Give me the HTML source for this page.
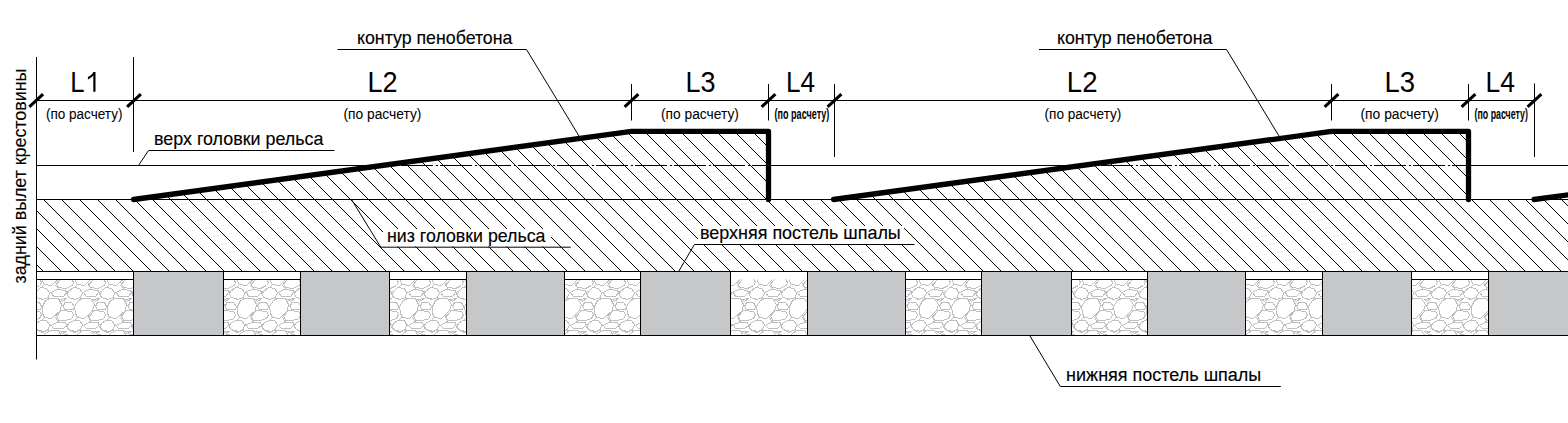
<!DOCTYPE html><html><head><meta charset="utf-8"><style>html,body{margin:0;padding:0;background:#fff;overflow:hidden}svg{display:block}text{font-family:"Liberation Sans",sans-serif;fill:#000}</style></head><body><svg width="1568" height="423" viewBox="0 0 1568 423"><defs><clipPath id="hc"><path d="M133.50 199.50L631.50 131.40L768.50 131.40L768.50 199.50ZM833.50 199.50L1331.50 131.40L1468.50 131.40L1468.50 199.50ZM1534.0 199.5L1580 193.23L1580 199.5ZM36.5 199.5L1580 199.5L1580 271.5L36.5 271.5Z"/></clipPath></defs><clipPath id="gc"><path d="M36.5 279.5H133.5V335.5H36.5ZM223.5 279.5H300.5V335.5H223.5ZM389.5 279.5H466.5V335.5H389.5ZM564.5 279.5H640.5V335.5H564.5ZM730.5 279.5H807.5V335.5H730.5ZM905.5 279.5H981.5V335.5H905.5ZM1071.5 279.5H1147.5V335.5H1071.5ZM1245.5 279.5H1322.5V335.5H1245.5ZM1411.5 279.5H1488.5V335.5H1411.5Z"/></clipPath><g clip-path="url(#gc)"><path d="M29.5 278.5L39.5 278.5L41.5 282.5L39.5 285.5L33.5 288.5L25.5 287.5L23.5 285.5L27.5 280.5ZM32.5 302.5L39.5 302.5L41.5 306.5L40.5 309.5L32.5 309.5L30.5 306.5ZM29.5 310.5L39.5 311.5L41.5 314.5L39.5 318.5L33.5 320.5L25.5 320.5L23.5 317.5L27.5 312.5ZM33.5 292.5L36.5 297.5L43.5 299.5M32.5 334.5L39.5 335.5L41.5 338.5L40.5 341.5L32.5 341.5L30.5 338.5ZM33.5 325.5L36.5 329.5L43.5 331.5M50.5 265.5L58.5 265.5L61.5 271.5L60.5 277.5L51.5 285.5L44.5 284.5L42.5 281.5L42.5 273.5L45.5 268.5ZM61.5 278.5L71.5 278.5L73.5 282.5L72.5 285.5L65.5 288.5L57.5 287.5L55.5 285.5L59.5 280.5ZM36.5 291.5L40.5 287.5L46.5 288.5L49.5 292.5L48.5 297.5L42.5 299.5L36.5 297.5L35.5 294.5ZM52.5 291.5L57.5 289.5L65.5 290.5L66.5 292.5L63.5 296.5L53.5 296.5L51.5 292.5ZM50.5 298.5L58.5 298.5L61.5 304.5L60.5 310.5L51.5 318.5L44.5 317.5L42.5 313.5L42.5 306.5L45.5 300.5ZM60.5 299.5L66.5 298.5L62.5 301.5ZM64.5 302.5L71.5 302.5L74.5 306.5L73.5 309.5L64.5 309.5L63.5 306.5ZM61.5 310.5L71.5 311.5L73.5 314.5L72.5 318.5L65.5 320.5L57.5 320.5L55.5 317.5L59.5 312.5ZM41.5 287.5L44.5 284.5M56.5 283.5L58.5 288.5L57.5 289.5M49.5 292.5L51.5 292.5M48.5 297.5L48.5 299.5M66.5 292.5L68.5 297.5L75.5 299.5M61.5 304.5L63.5 306.5M60.5 310.5L61.5 310.5M36.5 291.5L33.5 292.5M36.5 323.5L40.5 320.5L46.5 320.5L49.5 324.5L48.5 329.5L42.5 332.5L36.5 329.5L35.5 326.5ZM52.5 324.5L57.5 322.5L65.5 322.5L66.5 325.5L63.5 328.5L53.5 328.5L51.5 325.5ZM50.5 330.5L58.5 330.5L61.5 336.5L60.5 342.5L51.5 350.5L44.5 349.5L42.5 346.5L42.5 338.5L45.5 333.5ZM60.5 331.5L66.5 331.5L62.5 333.5ZM64.5 334.5L71.5 335.5L74.5 338.5L73.5 341.5L64.5 341.5L63.5 338.5ZM41.5 320.5L44.5 317.5M56.5 315.5L58.5 320.5L57.5 322.5M49.5 324.5L51.5 325.5M48.5 329.5L48.5 331.5M66.5 325.5L68.5 329.5L75.5 331.5M36.5 323.5L33.5 325.5M82.5 265.5L90.5 265.5L94.5 271.5L92.5 277.5L84.5 285.5L77.5 284.5L75.5 281.5L74.5 273.5L78.5 268.5ZM93.5 278.5L103.5 278.5L105.5 282.5L104.5 285.5L97.5 288.5L90.5 287.5L88.5 285.5L92.5 280.5ZM68.5 291.5L73.5 287.5L79.5 288.5L82.5 292.5L80.5 297.5L74.5 299.5L68.5 297.5L67.5 294.5ZM84.5 291.5L89.5 289.5L98.5 290.5L98.5 292.5L95.5 296.5L86.5 296.5L83.5 292.5ZM82.5 298.5L90.5 298.5L94.5 304.5L92.5 310.5L84.5 318.5L77.5 317.5L75.5 313.5L74.5 306.5L78.5 300.5ZM92.5 299.5L99.5 298.5L95.5 301.5ZM97.5 302.5L104.5 302.5L106.5 306.5L105.5 309.5L97.5 309.5L95.5 306.5ZM93.5 310.5L103.5 311.5L105.5 314.5L104.5 318.5L97.5 320.5L90.5 320.5L88.5 317.5L92.5 312.5ZM74.5 287.5L77.5 284.5M88.5 283.5L90.5 288.5L89.5 289.5M82.5 292.5L83.5 292.5M80.5 297.5L81.5 299.5M98.5 292.5L101.5 297.5L108.5 299.5M94.5 304.5L95.5 306.5M92.5 310.5L93.5 310.5M68.5 291.5L66.5 292.5M68.5 323.5L73.5 320.5L79.5 320.5L82.5 324.5L80.5 329.5L74.5 332.5L68.5 329.5L67.5 326.5ZM84.5 324.5L89.5 322.5L98.5 322.5L98.5 325.5L95.5 328.5L86.5 328.5L83.5 325.5ZM82.5 330.5L90.5 330.5L94.5 336.5L92.5 342.5L84.5 350.5L77.5 349.5L75.5 346.5L74.5 338.5L78.5 333.5ZM92.5 331.5L99.5 331.5L95.5 333.5ZM97.5 334.5L104.5 335.5L106.5 338.5L105.5 341.5L97.5 341.5L95.5 338.5ZM74.5 320.5L77.5 317.5M88.5 315.5L90.5 320.5L89.5 322.5M82.5 324.5L83.5 325.5M80.5 329.5L81.5 331.5M98.5 325.5L101.5 329.5L108.5 331.5M68.5 323.5L66.5 325.5M115.5 265.5L123.5 265.5L126.5 271.5L125.5 277.5L116.5 285.5L109.5 284.5L107.5 281.5L107.5 273.5L110.5 268.5ZM126.5 278.5L136.5 278.5L138.5 282.5L137.5 285.5L130.5 288.5L122.5 287.5L120.5 285.5L124.5 280.5ZM101.5 291.5L105.5 287.5L111.5 288.5L114.5 292.5L113.5 297.5L107.5 299.5L101.5 297.5L100.5 294.5ZM117.5 291.5L122.5 289.5L130.5 290.5L131.5 292.5L128.5 296.5L118.5 296.5L116.5 292.5ZM115.5 298.5L123.5 298.5L126.5 304.5L125.5 310.5L116.5 318.5L109.5 317.5L107.5 313.5L107.5 306.5L110.5 300.5ZM125.5 299.5L131.5 298.5L127.5 301.5ZM129.5 302.5L136.5 302.5L139.5 306.5L138.5 309.5L129.5 309.5L128.5 306.5ZM126.5 310.5L136.5 311.5L138.5 314.5L137.5 318.5L130.5 320.5L122.5 320.5L120.5 317.5L124.5 312.5ZM106.5 287.5L109.5 284.5M121.5 283.5L123.5 288.5L122.5 289.5M114.5 292.5L116.5 292.5M113.5 297.5L113.5 299.5M131.5 292.5L133.5 297.5L140.5 299.5M126.5 304.5L128.5 306.5M125.5 310.5L126.5 310.5M101.5 291.5L98.5 292.5M101.5 323.5L105.5 320.5L111.5 320.5L114.5 324.5L113.5 329.5L107.5 332.5L101.5 329.5L100.5 326.5ZM117.5 324.5L122.5 322.5L130.5 322.5L131.5 325.5L128.5 328.5L118.5 328.5L116.5 325.5ZM115.5 330.5L123.5 330.5L126.5 336.5L125.5 342.5L116.5 350.5L109.5 349.5L107.5 346.5L107.5 338.5L110.5 333.5ZM125.5 331.5L131.5 331.5L127.5 333.5ZM129.5 334.5L136.5 335.5L139.5 338.5L138.5 341.5L129.5 341.5L128.5 338.5ZM106.5 320.5L109.5 317.5M121.5 315.5L123.5 320.5L122.5 322.5M114.5 324.5L116.5 325.5M113.5 329.5L113.5 331.5M131.5 325.5L133.5 329.5L140.5 331.5M101.5 323.5L98.5 325.5M133.5 291.5L138.5 287.5L144.5 288.5L147.5 292.5L145.5 297.5L139.5 299.5L133.5 297.5L132.5 294.5ZM133.5 291.5L131.5 292.5M133.5 323.5L138.5 320.5L144.5 320.5L147.5 324.5L145.5 329.5L139.5 332.5L133.5 329.5L132.5 326.5ZM133.5 323.5L131.5 325.5M212.5 265.5L220.5 265.5L224.5 271.5L222.5 277.5L214.5 285.5L207.5 284.5L205.5 281.5L204.5 273.5L208.5 268.5ZM223.5 278.5L233.5 278.5L235.5 282.5L234.5 285.5L227.5 288.5L219.5 287.5L217.5 285.5L221.5 280.5ZM214.5 291.5L219.5 289.5L228.5 290.5L228.5 292.5L225.5 296.5L216.5 296.5L213.5 292.5ZM212.5 298.5L220.5 298.5L224.5 304.5L222.5 310.5L214.5 318.5L207.5 317.5L205.5 313.5L204.5 306.5L208.5 300.5ZM222.5 299.5L229.5 298.5L225.5 301.5ZM226.5 302.5L233.5 302.5L236.5 306.5L235.5 309.5L226.5 309.5L225.5 306.5ZM223.5 310.5L233.5 311.5L235.5 314.5L234.5 318.5L227.5 320.5L219.5 320.5L217.5 317.5L221.5 312.5ZM228.5 292.5L231.5 297.5L238.5 299.5M224.5 304.5L225.5 306.5M222.5 310.5L223.5 310.5M214.5 324.5L219.5 322.5L228.5 322.5L228.5 325.5L225.5 328.5L216.5 328.5L213.5 325.5ZM212.5 330.5L220.5 330.5L224.5 336.5L222.5 342.5L214.5 350.5L207.5 349.5L205.5 346.5L204.5 338.5L208.5 333.5ZM222.5 331.5L229.5 331.5L225.5 333.5ZM226.5 334.5L233.5 335.5L236.5 338.5L235.5 341.5L226.5 341.5L225.5 338.5ZM228.5 325.5L231.5 329.5L238.5 331.5M245.5 265.5L253.5 265.5L256.5 271.5L255.5 277.5L246.5 285.5L239.5 284.5L237.5 281.5L237.5 273.5L240.5 268.5ZM256.5 278.5L266.5 278.5L268.5 282.5L266.5 285.5L260.5 288.5L252.5 287.5L250.5 285.5L254.5 280.5ZM230.5 291.5L235.5 287.5L241.5 288.5L244.5 292.5L243.5 297.5L237.5 299.5L231.5 297.5L229.5 294.5ZM246.5 291.5L252.5 289.5L260.5 290.5L261.5 292.5L257.5 296.5L248.5 296.5L246.5 292.5ZM245.5 298.5L253.5 298.5L256.5 304.5L255.5 310.5L246.5 318.5L239.5 317.5L237.5 313.5L237.5 306.5L240.5 300.5ZM255.5 299.5L261.5 298.5L257.5 301.5ZM259.5 302.5L266.5 302.5L268.5 306.5L267.5 309.5L259.5 309.5L257.5 306.5ZM256.5 310.5L266.5 311.5L268.5 314.5L266.5 318.5L260.5 320.5L252.5 320.5L250.5 317.5L254.5 312.5ZM236.5 287.5L239.5 284.5M250.5 283.5L253.5 288.5L252.5 289.5M244.5 292.5L246.5 292.5M243.5 297.5L243.5 299.5M261.5 292.5L263.5 297.5L270.5 299.5M256.5 304.5L257.5 306.5M255.5 310.5L256.5 310.5M230.5 291.5L228.5 292.5M230.5 323.5L235.5 320.5L241.5 320.5L244.5 324.5L243.5 329.5L237.5 332.5L231.5 329.5L229.5 326.5ZM246.5 324.5L252.5 322.5L260.5 322.5L261.5 325.5L257.5 328.5L248.5 328.5L246.5 325.5ZM245.5 330.5L253.5 330.5L256.5 336.5L255.5 342.5L246.5 350.5L239.5 349.5L237.5 346.5L237.5 338.5L240.5 333.5ZM255.5 331.5L261.5 331.5L257.5 333.5ZM259.5 334.5L266.5 335.5L268.5 338.5L267.5 341.5L259.5 341.5L257.5 338.5ZM236.5 320.5L239.5 317.5M250.5 315.5L253.5 320.5L252.5 322.5M244.5 324.5L246.5 325.5M243.5 329.5L243.5 331.5M261.5 325.5L263.5 329.5L270.5 331.5M230.5 323.5L228.5 325.5M277.5 265.5L285.5 265.5L288.5 271.5L287.5 277.5L279.5 285.5L272.5 284.5L270.5 281.5L269.5 273.5L273.5 268.5ZM288.5 278.5L298.5 278.5L300.5 282.5L299.5 285.5L292.5 288.5L284.5 287.5L282.5 285.5L286.5 280.5ZM263.5 291.5L268.5 287.5L274.5 288.5L277.5 292.5L275.5 297.5L269.5 299.5L263.5 297.5L262.5 294.5ZM279.5 291.5L284.5 289.5L293.5 290.5L293.5 292.5L290.5 296.5L281.5 296.5L278.5 292.5ZM277.5 298.5L285.5 298.5L288.5 304.5L287.5 310.5L279.5 318.5L272.5 317.5L270.5 313.5L269.5 306.5L273.5 300.5ZM287.5 299.5L294.5 298.5L290.5 301.5ZM291.5 302.5L298.5 302.5L301.5 306.5L300.5 309.5L291.5 309.5L290.5 306.5ZM288.5 310.5L298.5 311.5L300.5 314.5L299.5 318.5L292.5 320.5L284.5 320.5L282.5 317.5L286.5 312.5ZM269.5 287.5L272.5 284.5M283.5 283.5L285.5 288.5L284.5 289.5M277.5 292.5L278.5 292.5M275.5 297.5L276.5 299.5M293.5 292.5L296.5 297.5L303.5 299.5M288.5 304.5L290.5 306.5M287.5 310.5L288.5 310.5M263.5 291.5L261.5 292.5M263.5 323.5L268.5 320.5L274.5 320.5L277.5 324.5L275.5 329.5L269.5 332.5L263.5 329.5L262.5 326.5ZM279.5 324.5L284.5 322.5L293.5 322.5L293.5 325.5L290.5 328.5L281.5 328.5L278.5 325.5ZM277.5 330.5L285.5 330.5L288.5 336.5L287.5 342.5L279.5 350.5L272.5 349.5L270.5 346.5L269.5 338.5L273.5 333.5ZM287.5 331.5L294.5 331.5L290.5 333.5ZM291.5 334.5L298.5 335.5L301.5 338.5L300.5 341.5L291.5 341.5L290.5 338.5ZM269.5 320.5L272.5 317.5M283.5 315.5L285.5 320.5L284.5 322.5M277.5 324.5L278.5 325.5M275.5 329.5L276.5 331.5M293.5 325.5L296.5 329.5L303.5 331.5M263.5 323.5L261.5 325.5M295.5 291.5L300.5 287.5L306.5 288.5L309.5 292.5L308.5 297.5L301.5 299.5L296.5 297.5L294.5 294.5ZM295.5 291.5L293.5 292.5M295.5 323.5L300.5 320.5L306.5 320.5L309.5 324.5L308.5 329.5L301.5 332.5L296.5 329.5L294.5 326.5ZM295.5 323.5L293.5 325.5M386.5 278.5L396.5 278.5L398.5 282.5L396.5 285.5L390.5 288.5L382.5 287.5L380.5 285.5L384.5 280.5ZM376.5 291.5L381.5 289.5L390.5 290.5L390.5 292.5L387.5 296.5L378.5 296.5L375.5 292.5ZM384.5 299.5L391.5 298.5L387.5 301.5ZM389.5 302.5L396.5 302.5L398.5 306.5L397.5 309.5L389.5 309.5L387.5 306.5ZM386.5 310.5L396.5 311.5L398.5 314.5L396.5 318.5L390.5 320.5L382.5 320.5L380.5 317.5L384.5 312.5ZM390.5 292.5L393.5 297.5L400.5 299.5M376.5 324.5L381.5 322.5L390.5 322.5L390.5 325.5L387.5 328.5L378.5 328.5L375.5 325.5ZM384.5 331.5L391.5 331.5L387.5 333.5ZM389.5 334.5L396.5 335.5L398.5 338.5L397.5 341.5L389.5 341.5L387.5 338.5ZM390.5 325.5L393.5 329.5L400.5 331.5M407.5 265.5L415.5 265.5L418.5 271.5L417.5 277.5L409.5 285.5L402.5 284.5L400.5 281.5L399.5 273.5L403.5 268.5ZM418.5 278.5L428.5 278.5L430.5 282.5L429.5 285.5L422.5 288.5L414.5 287.5L412.5 285.5L416.5 280.5ZM393.5 291.5L397.5 287.5L404.5 288.5L406.5 292.5L405.5 297.5L399.5 299.5L393.5 297.5L392.5 294.5ZM409.5 291.5L414.5 289.5L422.5 290.5L423.5 292.5L420.5 296.5L411.5 296.5L408.5 292.5ZM407.5 298.5L415.5 298.5L418.5 304.5L417.5 310.5L409.5 318.5L402.5 317.5L400.5 313.5L399.5 306.5L403.5 300.5ZM417.5 299.5L424.5 298.5L419.5 301.5ZM421.5 302.5L428.5 302.5L431.5 306.5L430.5 309.5L421.5 309.5L420.5 306.5ZM418.5 310.5L428.5 311.5L430.5 314.5L429.5 318.5L422.5 320.5L414.5 320.5L412.5 317.5L416.5 312.5ZM398.5 287.5L401.5 284.5M413.5 283.5L415.5 288.5L414.5 289.5M406.5 292.5L408.5 292.5M405.5 297.5L406.5 299.5M423.5 292.5L425.5 297.5L433.5 299.5M418.5 304.5L420.5 306.5M417.5 310.5L418.5 310.5M393.5 291.5L390.5 292.5M393.5 323.5L397.5 320.5L404.5 320.5L406.5 324.5L405.5 329.5L399.5 332.5L393.5 329.5L392.5 326.5ZM409.5 324.5L414.5 322.5L422.5 322.5L423.5 325.5L420.5 328.5L411.5 328.5L408.5 325.5ZM407.5 330.5L415.5 330.5L418.5 336.5L417.5 342.5L409.5 350.5L402.5 349.5L400.5 346.5L399.5 338.5L403.5 333.5ZM417.5 331.5L424.5 331.5L419.5 333.5ZM421.5 334.5L428.5 335.5L431.5 338.5L430.5 341.5L421.5 341.5L420.5 338.5ZM398.5 320.5L401.5 317.5M413.5 315.5L415.5 320.5L414.5 322.5M406.5 324.5L408.5 325.5M405.5 329.5L406.5 331.5M423.5 325.5L425.5 329.5L433.5 331.5M393.5 323.5L390.5 325.5M439.5 265.5L447.5 265.5L451.5 271.5L449.5 277.5L441.5 285.5L434.5 284.5L432.5 281.5L432.5 273.5L435.5 268.5ZM451.5 278.5L461.5 278.5L463.5 282.5L461.5 285.5L455.5 288.5L447.5 287.5L445.5 285.5L449.5 280.5ZM425.5 291.5L430.5 287.5L436.5 288.5L439.5 292.5L437.5 297.5L431.5 299.5L426.5 297.5L424.5 294.5ZM441.5 291.5L446.5 289.5L455.5 290.5L455.5 292.5L452.5 296.5L443.5 296.5L440.5 292.5ZM439.5 298.5L447.5 298.5L451.5 304.5L449.5 310.5L441.5 318.5L434.5 317.5L432.5 313.5L432.5 306.5L435.5 300.5ZM449.5 299.5L456.5 298.5L452.5 301.5ZM454.5 302.5L461.5 302.5L463.5 306.5L462.5 309.5L454.5 309.5L452.5 306.5ZM451.5 310.5L461.5 311.5L463.5 314.5L461.5 318.5L455.5 320.5L447.5 320.5L445.5 317.5L449.5 312.5ZM431.5 287.5L434.5 284.5M445.5 283.5L447.5 288.5L446.5 289.5M439.5 292.5L440.5 292.5M437.5 297.5L438.5 299.5M455.5 292.5L458.5 297.5L465.5 299.5M451.5 304.5L452.5 306.5M449.5 310.5L451.5 310.5M425.5 291.5L423.5 292.5M425.5 323.5L430.5 320.5L436.5 320.5L439.5 324.5L437.5 329.5L431.5 332.5L426.5 329.5L424.5 326.5ZM441.5 324.5L446.5 322.5L455.5 322.5L455.5 325.5L452.5 328.5L443.5 328.5L440.5 325.5ZM439.5 330.5L447.5 330.5L451.5 336.5L449.5 342.5L441.5 350.5L434.5 349.5L432.5 346.5L432.5 338.5L435.5 333.5ZM449.5 331.5L456.5 331.5L452.5 333.5ZM454.5 334.5L461.5 335.5L463.5 338.5L462.5 341.5L454.5 341.5L452.5 338.5ZM431.5 320.5L434.5 317.5M445.5 315.5L447.5 320.5L446.5 322.5M439.5 324.5L440.5 325.5M437.5 329.5L438.5 331.5M455.5 325.5L458.5 329.5L465.5 331.5M425.5 323.5L423.5 325.5M472.5 265.5L480.5 265.5L483.5 271.5L482.5 277.5L474.5 285.5L467.5 284.5L465.5 281.5L464.5 273.5L468.5 268.5ZM458.5 291.5L462.5 287.5L469.5 288.5L471.5 292.5L470.5 297.5L464.5 299.5L458.5 297.5L457.5 294.5ZM472.5 298.5L480.5 298.5L483.5 304.5L482.5 310.5L474.5 318.5L467.5 317.5L465.5 313.5L464.5 306.5L468.5 300.5ZM463.5 287.5L466.5 284.5M458.5 291.5L455.5 292.5M458.5 323.5L462.5 320.5L469.5 320.5L471.5 324.5L470.5 329.5L464.5 332.5L458.5 329.5L457.5 326.5ZM472.5 330.5L480.5 330.5L483.5 336.5L482.5 342.5L474.5 350.5L467.5 349.5L465.5 346.5L464.5 338.5L468.5 333.5ZM463.5 320.5L466.5 317.5M458.5 323.5L455.5 325.5M569.5 265.5L577.5 265.5L581.5 271.5L579.5 277.5L571.5 285.5L564.5 284.5L562.5 281.5L561.5 273.5L565.5 268.5ZM581.5 278.5L591.5 278.5L593.5 282.5L591.5 285.5L585.5 288.5L577.5 287.5L575.5 285.5L579.5 280.5ZM555.5 291.5L560.5 287.5L566.5 288.5L569.5 292.5L567.5 297.5L561.5 299.5L556.5 297.5L554.5 294.5ZM571.5 291.5L576.5 289.5L585.5 290.5L585.5 292.5L582.5 296.5L573.5 296.5L570.5 292.5ZM569.5 298.5L577.5 298.5L581.5 304.5L579.5 310.5L571.5 318.5L564.5 317.5L562.5 313.5L561.5 306.5L565.5 300.5ZM579.5 299.5L586.5 298.5L582.5 301.5ZM584.5 302.5L591.5 302.5L593.5 306.5L592.5 309.5L584.5 309.5L582.5 306.5ZM581.5 310.5L591.5 311.5L593.5 314.5L591.5 318.5L585.5 320.5L577.5 320.5L575.5 317.5L579.5 312.5ZM561.5 287.5L564.5 284.5M575.5 283.5L577.5 288.5L576.5 289.5M569.5 292.5L570.5 292.5M567.5 297.5L568.5 299.5M585.5 292.5L588.5 297.5L595.5 299.5M581.5 304.5L582.5 306.5M579.5 310.5L581.5 310.5M555.5 323.5L560.5 320.5L566.5 320.5L569.5 324.5L567.5 329.5L561.5 332.5L556.5 329.5L554.5 326.5ZM571.5 324.5L576.5 322.5L585.5 322.5L585.5 325.5L582.5 328.5L573.5 328.5L570.5 325.5ZM569.5 330.5L577.5 330.5L581.5 336.5L579.5 342.5L571.5 350.5L564.5 349.5L562.5 346.5L561.5 338.5L565.5 333.5ZM579.5 331.5L586.5 331.5L582.5 333.5ZM584.5 334.5L591.5 335.5L593.5 338.5L592.5 341.5L584.5 341.5L582.5 338.5ZM561.5 320.5L564.5 317.5M575.5 315.5L577.5 320.5L576.5 322.5M569.5 324.5L570.5 325.5M567.5 329.5L568.5 331.5M585.5 325.5L588.5 329.5L595.5 331.5M602.5 265.5L610.5 265.5L613.5 271.5L612.5 277.5L603.5 285.5L596.5 284.5L594.5 281.5L594.5 273.5L597.5 268.5ZM613.5 278.5L623.5 278.5L625.5 282.5L624.5 285.5L617.5 288.5L609.5 287.5L607.5 285.5L611.5 280.5ZM588.5 291.5L592.5 287.5L598.5 288.5L601.5 292.5L600.5 297.5L594.5 299.5L588.5 297.5L587.5 294.5ZM604.5 291.5L609.5 289.5L617.5 290.5L618.5 292.5L615.5 296.5L605.5 296.5L603.5 292.5ZM602.5 298.5L610.5 298.5L613.5 304.5L612.5 310.5L603.5 318.5L596.5 317.5L594.5 313.5L594.5 306.5L597.5 300.5ZM612.5 299.5L618.5 298.5L614.5 301.5ZM616.5 302.5L623.5 302.5L626.5 306.5L625.5 309.5L616.5 309.5L615.5 306.5ZM613.5 310.5L623.5 311.5L625.5 314.5L624.5 318.5L617.5 320.5L609.5 320.5L607.5 317.5L611.5 312.5ZM593.5 287.5L596.5 284.5M608.5 283.5L610.5 288.5L609.5 289.5M601.5 292.5L603.5 292.5M600.5 297.5L600.5 299.5M618.5 292.5L620.5 297.5L627.5 299.5M613.5 304.5L615.5 306.5M612.5 310.5L613.5 310.5M588.5 291.5L585.5 292.5M588.5 323.5L592.5 320.5L598.5 320.5L601.5 324.5L600.5 329.5L594.5 332.5L588.5 329.5L587.5 326.5ZM604.5 324.5L609.5 322.5L617.5 322.5L618.5 325.5L615.5 328.5L605.5 328.5L603.5 325.5ZM602.5 330.5L610.5 330.5L613.5 336.5L612.5 342.5L603.5 350.5L596.5 349.5L594.5 346.5L594.5 338.5L597.5 333.5ZM612.5 331.5L618.5 331.5L614.5 333.5ZM616.5 334.5L623.5 335.5L626.5 338.5L625.5 341.5L616.5 341.5L615.5 338.5ZM593.5 320.5L596.5 317.5M608.5 315.5L610.5 320.5L609.5 322.5M601.5 324.5L603.5 325.5M600.5 329.5L600.5 331.5M618.5 325.5L620.5 329.5L627.5 331.5M588.5 323.5L585.5 325.5M634.5 265.5L642.5 265.5L646.5 271.5L644.5 277.5L636.5 285.5L629.5 284.5L627.5 281.5L626.5 273.5L630.5 268.5ZM645.5 278.5L655.5 278.5L657.5 282.5L656.5 285.5L649.5 288.5L642.5 287.5L640.5 285.5L644.5 280.5ZM620.5 291.5L625.5 287.5L631.5 288.5L634.5 292.5L632.5 297.5L626.5 299.5L620.5 297.5L619.5 294.5ZM636.5 291.5L641.5 289.5L650.5 290.5L650.5 292.5L647.5 296.5L638.5 296.5L635.5 292.5ZM634.5 298.5L642.5 298.5L646.5 304.5L644.5 310.5L636.5 318.5L629.5 317.5L627.5 313.5L626.5 306.5L630.5 300.5ZM645.5 310.5L655.5 311.5L657.5 314.5L656.5 318.5L649.5 320.5L642.5 320.5L640.5 317.5L644.5 312.5ZM626.5 287.5L629.5 284.5M640.5 283.5L642.5 288.5L641.5 289.5M634.5 292.5L635.5 292.5M632.5 297.5L633.5 299.5M620.5 291.5L618.5 292.5M620.5 323.5L625.5 320.5L631.5 320.5L634.5 324.5L632.5 329.5L626.5 332.5L620.5 329.5L619.5 326.5ZM636.5 324.5L641.5 322.5L650.5 322.5L650.5 325.5L647.5 328.5L638.5 328.5L635.5 325.5ZM634.5 330.5L642.5 330.5L646.5 336.5L644.5 342.5L636.5 350.5L629.5 349.5L627.5 346.5L626.5 338.5L630.5 333.5ZM626.5 320.5L629.5 317.5M640.5 315.5L642.5 320.5L641.5 322.5M634.5 324.5L635.5 325.5M632.5 329.5L633.5 331.5M620.5 323.5L618.5 325.5M732.5 265.5L740.5 265.5L743.5 271.5L742.5 277.5L733.5 285.5L726.5 284.5L724.5 281.5L724.5 273.5L727.5 268.5ZM743.5 278.5L753.5 278.5L755.5 282.5L753.5 285.5L747.5 288.5L739.5 287.5L737.5 285.5L741.5 280.5ZM717.5 291.5L722.5 287.5L728.5 288.5L731.5 292.5L730.5 297.5L724.5 299.5L718.5 297.5L716.5 294.5ZM733.5 291.5L739.5 289.5L747.5 290.5L748.5 292.5L744.5 296.5L735.5 296.5L733.5 292.5ZM732.5 298.5L740.5 298.5L743.5 304.5L742.5 310.5L733.5 318.5L726.5 317.5L724.5 313.5L724.5 306.5L727.5 300.5ZM742.5 299.5L748.5 298.5L744.5 301.5ZM746.5 302.5L753.5 302.5L755.5 306.5L754.5 309.5L746.5 309.5L744.5 306.5ZM743.5 310.5L753.5 311.5L755.5 314.5L753.5 318.5L747.5 320.5L739.5 320.5L737.5 317.5L741.5 312.5ZM737.5 283.5L740.5 288.5L739.5 289.5M731.5 292.5L733.5 292.5M730.5 297.5L730.5 299.5M748.5 292.5L750.5 297.5L757.5 299.5M743.5 304.5L744.5 306.5M742.5 310.5L743.5 310.5M717.5 323.5L722.5 320.5L728.5 320.5L731.5 324.5L730.5 329.5L724.5 332.5L718.5 329.5L716.5 326.5ZM733.5 324.5L739.5 322.5L747.5 322.5L748.5 325.5L744.5 328.5L735.5 328.5L733.5 325.5ZM732.5 330.5L740.5 330.5L743.5 336.5L742.5 342.5L733.5 350.5L726.5 349.5L724.5 346.5L724.5 338.5L727.5 333.5ZM742.5 331.5L748.5 331.5L744.5 333.5ZM746.5 334.5L753.5 335.5L755.5 338.5L754.5 341.5L746.5 341.5L744.5 338.5ZM737.5 315.5L740.5 320.5L739.5 322.5M731.5 324.5L733.5 325.5M730.5 329.5L730.5 331.5M748.5 325.5L750.5 329.5L757.5 331.5M764.5 265.5L772.5 265.5L776.5 271.5L774.5 277.5L766.5 285.5L759.5 284.5L757.5 281.5L756.5 273.5L760.5 268.5ZM775.5 278.5L785.5 278.5L787.5 282.5L786.5 285.5L779.5 288.5L771.5 287.5L769.5 285.5L773.5 280.5ZM750.5 291.5L755.5 287.5L761.5 288.5L764.5 292.5L762.5 297.5L756.5 299.5L750.5 297.5L749.5 294.5ZM766.5 291.5L771.5 289.5L780.5 290.5L780.5 292.5L777.5 296.5L768.5 296.5L765.5 292.5ZM764.5 298.5L772.5 298.5L776.5 304.5L774.5 310.5L766.5 318.5L759.5 317.5L757.5 313.5L756.5 306.5L760.5 300.5ZM774.5 299.5L781.5 298.5L777.5 301.5ZM778.5 302.5L785.5 302.5L788.5 306.5L787.5 309.5L778.5 309.5L777.5 306.5ZM775.5 310.5L785.5 311.5L787.5 314.5L786.5 318.5L779.5 320.5L771.5 320.5L769.5 317.5L773.5 312.5ZM756.5 287.5L759.5 284.5M770.5 283.5L772.5 288.5L771.5 289.5M764.5 292.5L765.5 292.5M762.5 297.5L763.5 299.5M780.5 292.5L783.5 297.5L790.5 299.5M776.5 304.5L777.5 306.5M774.5 310.5L775.5 310.5M750.5 291.5L748.5 292.5M750.5 323.5L755.5 320.5L761.5 320.5L764.5 324.5L762.5 329.5L756.5 332.5L750.5 329.5L749.5 326.5ZM766.5 324.5L771.5 322.5L780.5 322.5L780.5 325.5L777.5 328.5L768.5 328.5L765.5 325.5ZM764.5 330.5L772.5 330.5L776.5 336.5L774.5 342.5L766.5 350.5L759.5 349.5L757.5 346.5L756.5 338.5L760.5 333.5ZM774.5 331.5L781.5 331.5L777.5 333.5ZM778.5 334.5L785.5 335.5L788.5 338.5L787.5 341.5L778.5 341.5L777.5 338.5ZM756.5 320.5L759.5 317.5M770.5 315.5L772.5 320.5L771.5 322.5M764.5 324.5L765.5 325.5M762.5 329.5L763.5 331.5M780.5 325.5L783.5 329.5L790.5 331.5M750.5 323.5L748.5 325.5M796.5 265.5L804.5 265.5L808.5 271.5L806.5 277.5L798.5 285.5L791.5 284.5L789.5 281.5L789.5 273.5L792.5 268.5ZM808.5 278.5L818.5 278.5L820.5 282.5L818.5 285.5L812.5 288.5L804.5 287.5L802.5 285.5L806.5 280.5ZM782.5 291.5L787.5 287.5L793.5 288.5L796.5 292.5L795.5 297.5L788.5 299.5L783.5 297.5L781.5 294.5ZM798.5 291.5L804.5 289.5L812.5 290.5L813.5 292.5L809.5 296.5L800.5 296.5L797.5 292.5ZM796.5 298.5L804.5 298.5L808.5 304.5L806.5 310.5L798.5 318.5L791.5 317.5L789.5 313.5L789.5 306.5L792.5 300.5ZM807.5 299.5L813.5 298.5L809.5 301.5ZM808.5 310.5L818.5 311.5L820.5 314.5L818.5 318.5L812.5 320.5L804.5 320.5L802.5 317.5L806.5 312.5ZM788.5 287.5L791.5 284.5M802.5 283.5L805.5 288.5L804.5 289.5M796.5 292.5L797.5 292.5M795.5 297.5L795.5 299.5M806.5 310.5L808.5 310.5M782.5 291.5L780.5 292.5M782.5 323.5L787.5 320.5L793.5 320.5L796.5 324.5L795.5 329.5L788.5 332.5L783.5 329.5L781.5 326.5ZM798.5 324.5L804.5 322.5L812.5 322.5L813.5 325.5L809.5 328.5L800.5 328.5L797.5 325.5ZM796.5 330.5L804.5 330.5L808.5 336.5L806.5 342.5L798.5 350.5L791.5 349.5L789.5 346.5L789.5 338.5L792.5 333.5ZM807.5 331.5L813.5 331.5L809.5 333.5ZM788.5 320.5L791.5 317.5M802.5 315.5L805.5 320.5L804.5 322.5M796.5 324.5L797.5 325.5M795.5 329.5L795.5 331.5M782.5 323.5L780.5 325.5M894.5 265.5L902.5 265.5L905.5 271.5L904.5 277.5L896.5 285.5L889.5 284.5L887.5 281.5L886.5 273.5L890.5 268.5ZM905.5 278.5L915.5 278.5L917.5 282.5L916.5 285.5L909.5 288.5L901.5 287.5L899.5 285.5L903.5 280.5ZM896.5 291.5L901.5 289.5L910.5 290.5L910.5 292.5L907.5 296.5L898.5 296.5L895.5 292.5ZM894.5 298.5L902.5 298.5L905.5 304.5L904.5 310.5L896.5 318.5L889.5 317.5L887.5 313.5L886.5 306.5L890.5 300.5ZM904.5 299.5L911.5 298.5L907.5 301.5ZM908.5 302.5L915.5 302.5L918.5 306.5L917.5 309.5L908.5 309.5L907.5 306.5ZM905.5 310.5L915.5 311.5L917.5 314.5L916.5 318.5L909.5 320.5L901.5 320.5L899.5 317.5L903.5 312.5ZM910.5 292.5L913.5 297.5L920.5 299.5M905.5 304.5L907.5 306.5M904.5 310.5L905.5 310.5M896.5 324.5L901.5 322.5L910.5 322.5L910.5 325.5L907.5 328.5L898.5 328.5L895.5 325.5ZM894.5 330.5L902.5 330.5L905.5 336.5L904.5 342.5L896.5 350.5L889.5 349.5L887.5 346.5L886.5 338.5L890.5 333.5ZM904.5 331.5L911.5 331.5L907.5 333.5ZM908.5 334.5L915.5 335.5L918.5 338.5L917.5 341.5L908.5 341.5L907.5 338.5ZM910.5 325.5L913.5 329.5L920.5 331.5M926.5 265.5L934.5 265.5L938.5 271.5L936.5 277.5L928.5 285.5L921.5 284.5L919.5 281.5L919.5 273.5L922.5 268.5ZM938.5 278.5L948.5 278.5L950.5 282.5L948.5 285.5L942.5 288.5L934.5 287.5L932.5 285.5L936.5 280.5ZM912.5 291.5L917.5 287.5L923.5 288.5L926.5 292.5L924.5 297.5L918.5 299.5L913.5 297.5L911.5 294.5ZM928.5 291.5L933.5 289.5L942.5 290.5L942.5 292.5L939.5 296.5L930.5 296.5L927.5 292.5ZM926.5 298.5L934.5 298.5L938.5 304.5L936.5 310.5L928.5 318.5L921.5 317.5L919.5 313.5L919.5 306.5L922.5 300.5ZM936.5 299.5L943.5 298.5L939.5 301.5ZM941.5 302.5L948.5 302.5L950.5 306.5L949.5 309.5L941.5 309.5L939.5 306.5ZM938.5 310.5L948.5 311.5L950.5 314.5L948.5 318.5L942.5 320.5L934.5 320.5L932.5 317.5L936.5 312.5ZM918.5 287.5L921.5 284.5M932.5 283.5L934.5 288.5L933.5 289.5M926.5 292.5L927.5 292.5M924.5 297.5L925.5 299.5M942.5 292.5L945.5 297.5L952.5 299.5M938.5 304.5L939.5 306.5M936.5 310.5L938.5 310.5M912.5 291.5L910.5 292.5M912.5 323.5L917.5 320.5L923.5 320.5L926.5 324.5L924.5 329.5L918.5 332.5L913.5 329.5L911.5 326.5ZM928.5 324.5L933.5 322.5L942.5 322.5L942.5 325.5L939.5 328.5L930.5 328.5L927.5 325.5ZM926.5 330.5L934.5 330.5L938.5 336.5L936.5 342.5L928.5 350.5L921.5 349.5L919.5 346.5L919.5 338.5L922.5 333.5ZM936.5 331.5L943.5 331.5L939.5 333.5ZM941.5 334.5L948.5 335.5L950.5 338.5L949.5 341.5L941.5 341.5L939.5 338.5ZM918.5 320.5L921.5 317.5M932.5 315.5L934.5 320.5L933.5 322.5M926.5 324.5L927.5 325.5M924.5 329.5L925.5 331.5M942.5 325.5L945.5 329.5L952.5 331.5M912.5 323.5L910.5 325.5M959.5 265.5L967.5 265.5L970.5 271.5L969.5 277.5L961.5 285.5L954.5 284.5L952.5 281.5L951.5 273.5L955.5 268.5ZM970.5 278.5L980.5 278.5L982.5 282.5L981.5 285.5L974.5 288.5L966.5 287.5L964.5 285.5L968.5 280.5ZM945.5 291.5L949.5 287.5L956.5 288.5L958.5 292.5L957.5 297.5L951.5 299.5L945.5 297.5L944.5 294.5ZM961.5 291.5L966.5 289.5L974.5 290.5L975.5 292.5L972.5 296.5L963.5 296.5L960.5 292.5ZM959.5 298.5L967.5 298.5L970.5 304.5L969.5 310.5L961.5 318.5L954.5 317.5L952.5 313.5L951.5 306.5L955.5 300.5ZM969.5 299.5L976.5 298.5L971.5 301.5ZM973.5 302.5L980.5 302.5L983.5 306.5L982.5 309.5L973.5 309.5L972.5 306.5ZM970.5 310.5L980.5 311.5L982.5 314.5L981.5 318.5L974.5 320.5L966.5 320.5L964.5 317.5L968.5 312.5ZM950.5 287.5L953.5 284.5M965.5 283.5L967.5 288.5L966.5 289.5M958.5 292.5L960.5 292.5M957.5 297.5L958.5 299.5M975.5 292.5L977.5 297.5L985.5 299.5M970.5 304.5L972.5 306.5M969.5 310.5L970.5 310.5M945.5 291.5L942.5 292.5M945.5 323.5L949.5 320.5L956.5 320.5L958.5 324.5L957.5 329.5L951.5 332.5L945.5 329.5L944.5 326.5ZM961.5 324.5L966.5 322.5L974.5 322.5L975.5 325.5L972.5 328.5L963.5 328.5L960.5 325.5ZM959.5 330.5L967.5 330.5L970.5 336.5L969.5 342.5L961.5 350.5L954.5 349.5L952.5 346.5L951.5 338.5L955.5 333.5ZM969.5 331.5L976.5 331.5L971.5 333.5ZM973.5 334.5L980.5 335.5L983.5 338.5L982.5 341.5L973.5 341.5L972.5 338.5ZM950.5 320.5L953.5 317.5M965.5 315.5L967.5 320.5L966.5 322.5M958.5 324.5L960.5 325.5M957.5 329.5L958.5 331.5M975.5 325.5L977.5 329.5L985.5 331.5M945.5 323.5L942.5 325.5M977.5 291.5L982.5 287.5L988.5 288.5L991.5 292.5L989.5 297.5L983.5 299.5L978.5 297.5L976.5 294.5ZM977.5 291.5L975.5 292.5M977.5 323.5L982.5 320.5L988.5 320.5L991.5 324.5L989.5 329.5L983.5 332.5L978.5 329.5L976.5 326.5ZM977.5 323.5L975.5 325.5M1068.5 278.5L1078.5 278.5L1080.5 282.5L1078.5 285.5L1072.5 288.5L1064.5 287.5L1062.5 285.5L1066.5 280.5ZM1058.5 291.5L1063.5 289.5L1072.5 290.5L1072.5 292.5L1069.5 296.5L1060.5 296.5L1057.5 292.5ZM1066.5 299.5L1073.5 298.5L1069.5 301.5ZM1071.5 302.5L1078.5 302.5L1080.5 306.5L1079.5 309.5L1071.5 309.5L1069.5 306.5ZM1068.5 310.5L1078.5 311.5L1080.5 314.5L1078.5 318.5L1072.5 320.5L1064.5 320.5L1062.5 317.5L1066.5 312.5ZM1072.5 292.5L1075.5 297.5L1082.5 299.5M1058.5 324.5L1063.5 322.5L1072.5 322.5L1072.5 325.5L1069.5 328.5L1060.5 328.5L1057.5 325.5ZM1066.5 331.5L1073.5 331.5L1069.5 333.5ZM1071.5 334.5L1078.5 335.5L1080.5 338.5L1079.5 341.5L1071.5 341.5L1069.5 338.5ZM1072.5 325.5L1075.5 329.5L1082.5 331.5M1089.5 265.5L1097.5 265.5L1100.5 271.5L1099.5 277.5L1091.5 285.5L1084.5 284.5L1082.5 281.5L1081.5 273.5L1085.5 268.5ZM1100.5 278.5L1110.5 278.5L1112.5 282.5L1111.5 285.5L1104.5 288.5L1096.5 287.5L1094.5 285.5L1098.5 280.5ZM1075.5 291.5L1079.5 287.5L1085.5 288.5L1088.5 292.5L1087.5 297.5L1081.5 299.5L1075.5 297.5L1074.5 294.5ZM1091.5 291.5L1096.5 289.5L1104.5 290.5L1105.5 292.5L1102.5 296.5L1092.5 296.5L1090.5 292.5ZM1089.5 298.5L1097.5 298.5L1100.5 304.5L1099.5 310.5L1091.5 318.5L1084.5 317.5L1082.5 313.5L1081.5 306.5L1085.5 300.5ZM1099.5 299.5L1106.5 298.5L1101.5 301.5ZM1103.5 302.5L1110.5 302.5L1113.5 306.5L1112.5 309.5L1103.5 309.5L1102.5 306.5ZM1100.5 310.5L1110.5 311.5L1112.5 314.5L1111.5 318.5L1104.5 320.5L1096.5 320.5L1094.5 317.5L1098.5 312.5ZM1080.5 287.5L1083.5 284.5M1095.5 283.5L1097.5 288.5L1096.5 289.5M1088.5 292.5L1090.5 292.5M1087.5 297.5L1088.5 299.5M1105.5 292.5L1107.5 297.5L1114.5 299.5M1100.5 304.5L1102.5 306.5M1099.5 310.5L1100.5 310.5M1075.5 291.5L1072.5 292.5M1075.5 323.5L1079.5 320.5L1085.5 320.5L1088.5 324.5L1087.5 329.5L1081.5 332.5L1075.5 329.5L1074.5 326.5ZM1091.5 324.5L1096.5 322.5L1104.5 322.5L1105.5 325.5L1102.5 328.5L1092.5 328.5L1090.5 325.5ZM1089.5 330.5L1097.5 330.5L1100.5 336.5L1099.5 342.5L1091.5 350.5L1084.5 349.5L1082.5 346.5L1081.5 338.5L1085.5 333.5ZM1099.5 331.5L1106.5 331.5L1101.5 333.5ZM1103.5 334.5L1110.5 335.5L1113.5 338.5L1112.5 341.5L1103.5 341.5L1102.5 338.5ZM1080.5 320.5L1083.5 317.5M1095.5 315.5L1097.5 320.5L1096.5 322.5M1088.5 324.5L1090.5 325.5M1087.5 329.5L1088.5 331.5M1105.5 325.5L1107.5 329.5L1114.5 331.5M1075.5 323.5L1072.5 325.5M1121.5 265.5L1129.5 265.5L1133.5 271.5L1131.5 277.5L1123.5 285.5L1116.5 284.5L1114.5 281.5L1113.5 273.5L1117.5 268.5ZM1133.5 278.5L1143.5 278.5L1145.5 282.5L1143.5 285.5L1137.5 288.5L1129.5 287.5L1127.5 285.5L1131.5 280.5ZM1107.5 291.5L1112.5 287.5L1118.5 288.5L1121.5 292.5L1119.5 297.5L1113.5 299.5L1108.5 297.5L1106.5 294.5ZM1123.5 291.5L1128.5 289.5L1137.5 290.5L1137.5 292.5L1134.5 296.5L1125.5 296.5L1122.5 292.5ZM1121.5 298.5L1129.5 298.5L1133.5 304.5L1131.5 310.5L1123.5 318.5L1116.5 317.5L1114.5 313.5L1113.5 306.5L1117.5 300.5ZM1131.5 299.5L1138.5 298.5L1134.5 301.5ZM1136.5 302.5L1143.5 302.5L1145.5 306.5L1144.5 309.5L1136.5 309.5L1134.5 306.5ZM1133.5 310.5L1143.5 311.5L1145.5 314.5L1143.5 318.5L1137.5 320.5L1129.5 320.5L1127.5 317.5L1131.5 312.5ZM1113.5 287.5L1116.5 284.5M1127.5 283.5L1129.5 288.5L1128.5 289.5M1121.5 292.5L1122.5 292.5M1119.5 297.5L1120.5 299.5M1137.5 292.5L1140.5 297.5L1147.5 299.5M1133.5 304.5L1134.5 306.5M1131.5 310.5L1133.5 310.5M1107.5 291.5L1105.5 292.5M1107.5 323.5L1112.5 320.5L1118.5 320.5L1121.5 324.5L1119.5 329.5L1113.5 332.5L1108.5 329.5L1106.5 326.5ZM1123.5 324.5L1128.5 322.5L1137.5 322.5L1137.5 325.5L1134.5 328.5L1125.5 328.5L1122.5 325.5ZM1121.5 330.5L1129.5 330.5L1133.5 336.5L1131.5 342.5L1123.5 350.5L1116.5 349.5L1114.5 346.5L1113.5 338.5L1117.5 333.5ZM1131.5 331.5L1138.5 331.5L1134.5 333.5ZM1136.5 334.5L1143.5 335.5L1145.5 338.5L1144.5 341.5L1136.5 341.5L1134.5 338.5ZM1113.5 320.5L1116.5 317.5M1127.5 315.5L1129.5 320.5L1128.5 322.5M1121.5 324.5L1122.5 325.5M1119.5 329.5L1120.5 331.5M1137.5 325.5L1140.5 329.5L1147.5 331.5M1107.5 323.5L1105.5 325.5M1154.5 265.5L1162.5 265.5L1165.5 271.5L1164.5 277.5L1155.5 285.5L1148.5 284.5L1146.5 281.5L1146.5 273.5L1149.5 268.5ZM1140.5 291.5L1144.5 287.5L1150.5 288.5L1153.5 292.5L1152.5 297.5L1146.5 299.5L1140.5 297.5L1139.5 294.5ZM1154.5 298.5L1162.5 298.5L1165.5 304.5L1164.5 310.5L1155.5 318.5L1148.5 317.5L1146.5 313.5L1146.5 306.5L1149.5 300.5ZM1145.5 287.5L1148.5 284.5M1140.5 291.5L1137.5 292.5M1140.5 323.5L1144.5 320.5L1150.5 320.5L1153.5 324.5L1152.5 329.5L1146.5 332.5L1140.5 329.5L1139.5 326.5ZM1154.5 330.5L1162.5 330.5L1165.5 336.5L1164.5 342.5L1155.5 350.5L1148.5 349.5L1146.5 346.5L1146.5 338.5L1149.5 333.5ZM1145.5 320.5L1148.5 317.5M1140.5 323.5L1137.5 325.5M1251.5 265.5L1259.5 265.5L1263.5 271.5L1261.5 277.5L1253.5 285.5L1246.5 284.5L1244.5 281.5L1243.5 273.5L1247.5 268.5ZM1262.5 278.5L1272.5 278.5L1274.5 282.5L1273.5 285.5L1266.5 288.5L1258.5 287.5L1256.5 285.5L1260.5 280.5ZM1237.5 291.5L1242.5 287.5L1248.5 288.5L1251.5 292.5L1249.5 297.5L1243.5 299.5L1237.5 297.5L1236.5 294.5ZM1253.5 291.5L1258.5 289.5L1267.5 290.5L1267.5 292.5L1264.5 296.5L1255.5 296.5L1252.5 292.5ZM1251.5 298.5L1259.5 298.5L1263.5 304.5L1261.5 310.5L1253.5 318.5L1246.5 317.5L1244.5 313.5L1243.5 306.5L1247.5 300.5ZM1261.5 299.5L1268.5 298.5L1264.5 301.5ZM1265.5 302.5L1272.5 302.5L1275.5 306.5L1274.5 309.5L1265.5 309.5L1264.5 306.5ZM1262.5 310.5L1272.5 311.5L1274.5 314.5L1273.5 318.5L1266.5 320.5L1258.5 320.5L1256.5 317.5L1260.5 312.5ZM1243.5 287.5L1246.5 284.5M1257.5 283.5L1259.5 288.5L1258.5 289.5M1251.5 292.5L1252.5 292.5M1249.5 297.5L1250.5 299.5M1267.5 292.5L1270.5 297.5L1277.5 299.5M1263.5 304.5L1264.5 306.5M1261.5 310.5L1262.5 310.5M1237.5 323.5L1242.5 320.5L1248.5 320.5L1251.5 324.5L1249.5 329.5L1243.5 332.5L1237.5 329.5L1236.5 326.5ZM1253.5 324.5L1258.5 322.5L1267.5 322.5L1267.5 325.5L1264.5 328.5L1255.5 328.5L1252.5 325.5ZM1251.5 330.5L1259.5 330.5L1263.5 336.5L1261.5 342.5L1253.5 350.5L1246.5 349.5L1244.5 346.5L1243.5 338.5L1247.5 333.5ZM1261.5 331.5L1268.5 331.5L1264.5 333.5ZM1265.5 334.5L1272.5 335.5L1275.5 338.5L1274.5 341.5L1265.5 341.5L1264.5 338.5ZM1243.5 320.5L1246.5 317.5M1257.5 315.5L1259.5 320.5L1258.5 322.5M1251.5 324.5L1252.5 325.5M1249.5 329.5L1250.5 331.5M1267.5 325.5L1270.5 329.5L1277.5 331.5M1284.5 265.5L1292.5 265.5L1295.5 271.5L1294.5 277.5L1285.5 285.5L1278.5 284.5L1276.5 281.5L1276.5 273.5L1279.5 268.5ZM1295.5 278.5L1305.5 278.5L1307.5 282.5L1305.5 285.5L1299.5 288.5L1291.5 287.5L1289.5 285.5L1293.5 280.5ZM1269.5 291.5L1274.5 287.5L1280.5 288.5L1283.5 292.5L1282.5 297.5L1276.5 299.5L1270.5 297.5L1268.5 294.5ZM1285.5 291.5L1291.5 289.5L1299.5 290.5L1300.5 292.5L1296.5 296.5L1287.5 296.5L1285.5 292.5ZM1284.5 298.5L1292.5 298.5L1295.5 304.5L1294.5 310.5L1285.5 318.5L1278.5 317.5L1276.5 313.5L1276.5 306.5L1279.5 300.5ZM1294.5 299.5L1300.5 298.5L1296.5 301.5ZM1298.5 302.5L1305.5 302.5L1307.5 306.5L1306.5 309.5L1298.5 309.5L1296.5 306.5ZM1295.5 310.5L1305.5 311.5L1307.5 314.5L1305.5 318.5L1299.5 320.5L1291.5 320.5L1289.5 317.5L1293.5 312.5ZM1275.5 287.5L1278.5 284.5M1289.5 283.5L1292.5 288.5L1291.5 289.5M1283.5 292.5L1285.5 292.5M1282.5 297.5L1282.5 299.5M1300.5 292.5L1302.5 297.5L1309.5 299.5M1295.5 304.5L1296.5 306.5M1294.5 310.5L1295.5 310.5M1269.5 291.5L1267.5 292.5M1269.5 323.5L1274.5 320.5L1280.5 320.5L1283.5 324.5L1282.5 329.5L1276.5 332.5L1270.5 329.5L1268.5 326.5ZM1285.5 324.5L1291.5 322.5L1299.5 322.5L1300.5 325.5L1296.5 328.5L1287.5 328.5L1285.5 325.5ZM1284.5 330.5L1292.5 330.5L1295.5 336.5L1294.5 342.5L1285.5 350.5L1278.5 349.5L1276.5 346.5L1276.5 338.5L1279.5 333.5ZM1294.5 331.5L1300.5 331.5L1296.5 333.5ZM1298.5 334.5L1305.5 335.5L1307.5 338.5L1306.5 341.5L1298.5 341.5L1296.5 338.5ZM1275.5 320.5L1278.5 317.5M1289.5 315.5L1292.5 320.5L1291.5 322.5M1283.5 324.5L1285.5 325.5M1282.5 329.5L1282.5 331.5M1300.5 325.5L1302.5 329.5L1309.5 331.5M1269.5 323.5L1267.5 325.5M1316.5 265.5L1324.5 265.5L1328.5 271.5L1326.5 277.5L1318.5 285.5L1311.5 284.5L1309.5 281.5L1308.5 273.5L1312.5 268.5ZM1327.5 278.5L1337.5 278.5L1339.5 282.5L1338.5 285.5L1331.5 288.5L1323.5 287.5L1321.5 285.5L1325.5 280.5ZM1302.5 291.5L1307.5 287.5L1313.5 288.5L1316.5 292.5L1314.5 297.5L1308.5 299.5L1302.5 297.5L1301.5 294.5ZM1318.5 291.5L1323.5 289.5L1332.5 290.5L1332.5 292.5L1329.5 296.5L1320.5 296.5L1317.5 292.5ZM1316.5 298.5L1324.5 298.5L1328.5 304.5L1326.5 310.5L1318.5 318.5L1311.5 317.5L1309.5 313.5L1308.5 306.5L1312.5 300.5ZM1327.5 310.5L1337.5 311.5L1339.5 314.5L1338.5 318.5L1331.5 320.5L1323.5 320.5L1321.5 317.5L1325.5 312.5ZM1308.5 287.5L1311.5 284.5M1322.5 283.5L1324.5 288.5L1323.5 289.5M1316.5 292.5L1317.5 292.5M1314.5 297.5L1315.5 299.5M1302.5 291.5L1300.5 292.5M1302.5 323.5L1307.5 320.5L1313.5 320.5L1316.5 324.5L1314.5 329.5L1308.5 332.5L1302.5 329.5L1301.5 326.5ZM1318.5 324.5L1323.5 322.5L1332.5 322.5L1332.5 325.5L1329.5 328.5L1320.5 328.5L1317.5 325.5ZM1316.5 330.5L1324.5 330.5L1328.5 336.5L1326.5 342.5L1318.5 350.5L1311.5 349.5L1309.5 346.5L1308.5 338.5L1312.5 333.5ZM1308.5 320.5L1311.5 317.5M1322.5 315.5L1324.5 320.5L1323.5 322.5M1316.5 324.5L1317.5 325.5M1314.5 329.5L1315.5 331.5M1302.5 323.5L1300.5 325.5M1413.5 265.5L1421.5 265.5L1425.5 271.5L1423.5 277.5L1415.5 285.5L1408.5 284.5L1406.5 281.5L1406.5 273.5L1409.5 268.5ZM1425.5 278.5L1435.5 278.5L1437.5 282.5L1435.5 285.5L1429.5 288.5L1421.5 287.5L1419.5 285.5L1423.5 280.5ZM1399.5 291.5L1404.5 287.5L1410.5 288.5L1413.5 292.5L1412.5 297.5L1405.5 299.5L1400.5 297.5L1398.5 294.5ZM1415.5 291.5L1421.5 289.5L1429.5 290.5L1430.5 292.5L1426.5 296.5L1417.5 296.5L1414.5 292.5ZM1413.5 298.5L1421.5 298.5L1425.5 304.5L1423.5 310.5L1415.5 318.5L1408.5 317.5L1406.5 313.5L1406.5 306.5L1409.5 300.5ZM1424.5 299.5L1430.5 298.5L1426.5 301.5ZM1428.5 302.5L1435.5 302.5L1437.5 306.5L1436.5 309.5L1428.5 309.5L1426.5 306.5ZM1425.5 310.5L1435.5 311.5L1437.5 314.5L1435.5 318.5L1429.5 320.5L1421.5 320.5L1419.5 317.5L1423.5 312.5ZM1419.5 283.5L1422.5 288.5L1421.5 289.5M1413.5 292.5L1414.5 292.5M1412.5 297.5L1412.5 299.5M1430.5 292.5L1432.5 297.5L1439.5 299.5M1425.5 304.5L1426.5 306.5M1423.5 310.5L1425.5 310.5M1399.5 323.5L1404.5 320.5L1410.5 320.5L1413.5 324.5L1412.5 329.5L1405.5 332.5L1400.5 329.5L1398.5 326.5ZM1415.5 324.5L1421.5 322.5L1429.5 322.5L1430.5 325.5L1426.5 328.5L1417.5 328.5L1414.5 325.5ZM1413.5 330.5L1421.5 330.5L1425.5 336.5L1423.5 342.5L1415.5 350.5L1408.5 349.5L1406.5 346.5L1406.5 338.5L1409.5 333.5ZM1424.5 331.5L1430.5 331.5L1426.5 333.5ZM1428.5 334.5L1435.5 335.5L1437.5 338.5L1436.5 341.5L1428.5 341.5L1426.5 338.5ZM1419.5 315.5L1422.5 320.5L1421.5 322.5M1413.5 324.5L1414.5 325.5M1412.5 329.5L1412.5 331.5M1430.5 325.5L1432.5 329.5L1439.5 331.5M1446.5 265.5L1454.5 265.5L1457.5 271.5L1456.5 277.5L1448.5 285.5L1441.5 284.5L1439.5 281.5L1438.5 273.5L1442.5 268.5ZM1457.5 278.5L1467.5 278.5L1469.5 282.5L1468.5 285.5L1461.5 288.5L1453.5 287.5L1451.5 285.5L1455.5 280.5ZM1432.5 291.5L1437.5 287.5L1443.5 288.5L1446.5 292.5L1444.5 297.5L1438.5 299.5L1432.5 297.5L1431.5 294.5ZM1448.5 291.5L1453.5 289.5L1462.5 290.5L1462.5 292.5L1459.5 296.5L1450.5 296.5L1447.5 292.5ZM1446.5 298.5L1454.5 298.5L1457.5 304.5L1456.5 310.5L1448.5 318.5L1441.5 317.5L1439.5 313.5L1438.5 306.5L1442.5 300.5ZM1456.5 299.5L1463.5 298.5L1459.5 301.5ZM1460.5 302.5L1467.5 302.5L1470.5 306.5L1469.5 309.5L1460.5 309.5L1459.5 306.5ZM1457.5 310.5L1467.5 311.5L1469.5 314.5L1468.5 318.5L1461.5 320.5L1453.5 320.5L1451.5 317.5L1455.5 312.5ZM1438.5 287.5L1441.5 284.5M1452.5 283.5L1454.5 288.5L1453.5 289.5M1446.5 292.5L1447.5 292.5M1444.5 297.5L1445.5 299.5M1462.5 292.5L1465.5 297.5L1472.5 299.5M1457.5 304.5L1459.5 306.5M1456.5 310.5L1457.5 310.5M1432.5 291.5L1430.5 292.5M1432.5 323.5L1437.5 320.5L1443.5 320.5L1446.5 324.5L1444.5 329.5L1438.5 332.5L1432.5 329.5L1431.5 326.5ZM1448.5 324.5L1453.5 322.5L1462.5 322.5L1462.5 325.5L1459.5 328.5L1450.5 328.5L1447.5 325.5ZM1446.5 330.5L1454.5 330.5L1457.5 336.5L1456.5 342.5L1448.5 350.5L1441.5 349.5L1439.5 346.5L1438.5 338.5L1442.5 333.5ZM1456.5 331.5L1463.5 331.5L1459.5 333.5ZM1460.5 334.5L1467.5 335.5L1470.5 338.5L1469.5 341.5L1460.5 341.5L1459.5 338.5ZM1438.5 320.5L1441.5 317.5M1452.5 315.5L1454.5 320.5L1453.5 322.5M1446.5 324.5L1447.5 325.5M1444.5 329.5L1445.5 331.5M1462.5 325.5L1465.5 329.5L1472.5 331.5M1432.5 323.5L1430.5 325.5M1478.5 265.5L1486.5 265.5L1490.5 271.5L1488.5 277.5L1480.5 285.5L1473.5 284.5L1471.5 281.5L1471.5 273.5L1474.5 268.5ZM1490.5 278.5L1500.5 278.5L1502.5 282.5L1500.5 285.5L1494.5 288.5L1486.5 287.5L1484.5 285.5L1488.5 280.5ZM1464.5 291.5L1469.5 287.5L1475.5 288.5L1478.5 292.5L1476.5 297.5L1470.5 299.5L1465.5 297.5L1463.5 294.5ZM1480.5 291.5L1485.5 289.5L1494.5 290.5L1494.5 292.5L1491.5 296.5L1482.5 296.5L1479.5 292.5ZM1478.5 298.5L1486.5 298.5L1490.5 304.5L1488.5 310.5L1480.5 318.5L1473.5 317.5L1471.5 313.5L1471.5 306.5L1474.5 300.5ZM1488.5 299.5L1495.5 298.5L1491.5 301.5ZM1490.5 310.5L1500.5 311.5L1502.5 314.5L1500.5 318.5L1494.5 320.5L1486.5 320.5L1484.5 317.5L1488.5 312.5ZM1470.5 287.5L1473.5 284.5M1484.5 283.5L1486.5 288.5L1485.5 289.5M1478.5 292.5L1479.5 292.5M1476.5 297.5L1477.5 299.5M1488.5 310.5L1490.5 310.5M1464.5 291.5L1462.5 292.5M1464.5 323.5L1469.5 320.5L1475.5 320.5L1478.5 324.5L1476.5 329.5L1470.5 332.5L1465.5 329.5L1463.5 326.5ZM1480.5 324.5L1485.5 322.5L1494.5 322.5L1494.5 325.5L1491.5 328.5L1482.5 328.5L1479.5 325.5ZM1478.5 330.5L1486.5 330.5L1490.5 336.5L1488.5 342.5L1480.5 350.5L1473.5 349.5L1471.5 346.5L1471.5 338.5L1474.5 333.5ZM1488.5 331.5L1495.5 331.5L1491.5 333.5ZM1470.5 320.5L1473.5 317.5M1484.5 315.5L1486.5 320.5L1485.5 322.5M1478.5 324.5L1479.5 325.5M1476.5 329.5L1477.5 331.5M1464.5 323.5L1462.5 325.5" fill="none" stroke="#bfbfc3" stroke-width="1" shape-rendering="crispEdges"/></g><rect x="133.5" y="271.5" width="90" height="64.0" fill="#c6c7c9"/><rect x="300.5" y="271.5" width="89" height="64.0" fill="#c6c7c9"/><rect x="466.5" y="271.5" width="98" height="64.0" fill="#c6c7c9"/><rect x="640.5" y="271.5" width="90" height="64.0" fill="#c6c7c9"/><rect x="807.5" y="271.5" width="98" height="64.0" fill="#c6c7c9"/><rect x="981.5" y="271.5" width="90" height="64.0" fill="#c6c7c9"/><rect x="1147.5" y="271.5" width="98" height="64.0" fill="#c6c7c9"/><rect x="1322.5" y="271.5" width="89" height="64.0" fill="#c6c7c9"/><rect x="1488.5" y="271.5" width="92" height="64.0" fill="#c6c7c9"/><g clip-path="url(#hc)"><path d="M-180.00 120.00L-20.00 280.00M-162.00 120.00L-2.00 280.00M-144.00 120.00L16.00 280.00M-126.00 120.00L34.00 280.00M-108.00 120.00L52.00 280.00M-90.00 120.00L70.00 280.00M-72.00 120.00L88.00 280.00M-54.00 120.00L106.00 280.00M-36.00 120.00L124.00 280.00M-18.00 120.00L142.00 280.00M0.00 120.00L160.00 280.00M18.00 120.00L178.00 280.00M36.00 120.00L196.00 280.00M55.00 120.00L215.00 280.00M73.00 120.00L233.00 280.00M91.00 120.00L251.00 280.00M109.00 120.00L269.00 280.00M127.00 120.00L287.00 280.00M145.00 120.00L305.00 280.00M163.00 120.00L323.00 280.00M181.00 120.00L341.00 280.00M199.00 120.00L359.00 280.00M217.00 120.00L377.00 280.00M235.00 120.00L395.00 280.00M253.00 120.00L413.00 280.00M271.00 120.00L431.00 280.00M289.00 120.00L449.00 280.00M308.00 120.00L468.00 280.00M326.00 120.00L486.00 280.00M344.00 120.00L504.00 280.00M362.00 120.00L522.00 280.00M380.00 120.00L540.00 280.00M398.00 120.00L558.00 280.00M416.00 120.00L576.00 280.00M434.00 120.00L594.00 280.00M452.00 120.00L612.00 280.00M470.00 120.00L630.00 280.00M488.00 120.00L648.00 280.00M506.00 120.00L666.00 280.00M524.00 120.00L684.00 280.00M543.00 120.00L703.00 280.00M561.00 120.00L721.00 280.00M579.00 120.00L739.00 280.00M597.00 120.00L757.00 280.00M615.00 120.00L775.00 280.00M633.00 120.00L793.00 280.00M651.00 120.00L811.00 280.00M669.00 120.00L829.00 280.00M687.00 120.00L847.00 280.00M705.00 120.00L865.00 280.00M723.00 120.00L883.00 280.00M741.00 120.00L901.00 280.00M759.00 120.00L919.00 280.00M777.00 120.00L937.00 280.00M796.00 120.00L956.00 280.00M814.00 120.00L974.00 280.00M832.00 120.00L992.00 280.00M850.00 120.00L1010.00 280.00M868.00 120.00L1028.00 280.00M886.00 120.00L1046.00 280.00M904.00 120.00L1064.00 280.00M922.00 120.00L1082.00 280.00M940.00 120.00L1100.00 280.00M958.00 120.00L1118.00 280.00M976.00 120.00L1136.00 280.00M994.00 120.00L1154.00 280.00M1012.00 120.00L1172.00 280.00M1030.00 120.00L1190.00 280.00M1049.00 120.00L1209.00 280.00M1067.00 120.00L1227.00 280.00M1085.00 120.00L1245.00 280.00M1103.00 120.00L1263.00 280.00M1121.00 120.00L1281.00 280.00M1139.00 120.00L1299.00 280.00M1157.00 120.00L1317.00 280.00M1175.00 120.00L1335.00 280.00M1193.00 120.00L1353.00 280.00M1211.00 120.00L1371.00 280.00M1229.00 120.00L1389.00 280.00M1247.00 120.00L1407.00 280.00M1265.00 120.00L1425.00 280.00M1284.00 120.00L1444.00 280.00M1302.00 120.00L1462.00 280.00M1320.00 120.00L1480.00 280.00M1338.00 120.00L1498.00 280.00M1356.00 120.00L1516.00 280.00M1374.00 120.00L1534.00 280.00M1392.00 120.00L1552.00 280.00M1410.00 120.00L1570.00 280.00M1428.00 120.00L1588.00 280.00M1446.00 120.00L1606.00 280.00M1464.00 120.00L1624.00 280.00M1482.00 120.00L1642.00 280.00M1500.00 120.00L1660.00 280.00M1518.00 120.00L1678.00 280.00M1537.00 120.00L1697.00 280.00M1555.00 120.00L1715.00 280.00M1573.00 120.00L1733.00 280.00M1591.00 120.00L1751.00 280.00" stroke="#000" stroke-width="1" fill="none" shape-rendering="crispEdges"/></g><rect x="383" y="229" width="168" height="17.5" fill="#fff"/><rect x="698" y="226" width="206" height="18" fill="#fff"/><path d="M36.5 57L36.5 359.5M36 100.5L1534.5 100.5M133.5 57L133.5 152M631.5 84L631.5 120.5M768.5 84L768.5 120.5M834.5 84L834.5 157M1331.5 84L1331.5 120.5M1468.5 84L1468.5 120.5M1534.5 83.5L1534.5 157M36 165.5L382.86671575846833 165.5M768.5 165.5L1082.8667157584682 165.5M1468.5 165.5L1568 165.5M36 199.5L1568 199.5M36 271.5L1568 271.5M36 335.5L1568 335.5M36 279.5L134 279.5M223 279.5L301 279.5M389 279.5L467 279.5M564 279.5L641 279.5M905 279.5L982 279.5M1071 279.5L1148 279.5M1245 279.5L1323 279.5M1411 279.5L1489 279.5M133.5 271.5L133.5 335.5M223.5 271.5L223.5 335.5M300.5 271.5L300.5 335.5M389.5 271.5L389.5 335.5M466.5 271.5L466.5 335.5M564.5 271.5L564.5 335.5M640.5 271.5L640.5 335.5M730.5 271.5L730.5 335.5M807.5 271.5L807.5 335.5M905.5 271.5L905.5 335.5M981.5 271.5L981.5 335.5M1071.5 271.5L1071.5 335.5M1147.5 271.5L1147.5 335.5M1245.5 271.5L1245.5 335.5M1322.5 271.5L1322.5 335.5M1411.5 271.5L1411.5 335.5M1488.5 271.5L1488.5 335.5M138.5 165.5L148.5 150.5L334.5 150.5M337.5 49.5L526.5 49.5L579 136M1038.97 49.5L1226.5 49.5L1279 136M351.5 199.5L380.8 247.2L570.7 247.2M678.6 271.5L694.4 244.5L914.5 244.5M1029.7 335.5L1060.3 386.5L1280.8 386.5" stroke="#000" stroke-width="1" fill="none"/><path d="M382.87 165.5L768.5 165.5" stroke="#000" stroke-width="1" fill="none" stroke-dasharray="32 2.9 2.2 1.9" stroke-dashoffset="20.87"/><path d="M1082.87 165.5L1468.5 165.5" stroke="#000" stroke-width="1" fill="none" stroke-dasharray="32 2.9 2.2 1.9" stroke-dashoffset="20.87"/><path d="M29.30 106.90L43.10 94.10M127.10 106.90L140.90 94.10M624.60 106.90L638.40 94.10M761.60 106.90L775.40 94.10M827.60 106.90L841.40 94.10M1324.60 106.90L1338.40 94.10M1461.60 106.90L1475.40 94.10M1527.60 106.90L1541.40 94.10" stroke="#000" stroke-width="3.1" fill="none"/><path d="M133.50 199.50L631.50 131.40L768.50 131.40L768.50 199.50M833.50 199.50L1331.50 131.40L1468.50 131.40L1468.50 199.50M1534.0 199.5L1590 191.86" stroke="#000" stroke-width="5.3" fill="none" stroke-linejoin="round" stroke-linecap="round"/><text transform="translate(154.00 145.10) scale(0.9941 1.0000)" font-size="18"  stroke="#000" stroke-width="0.15">верх головки рельса</text><text transform="translate(357.00 44.00) scale(0.9874 1.0000)" font-size="18"  stroke="#000" stroke-width="0.15">контур пенобетона</text><text transform="translate(1057.00 44.00) scale(0.9874 1.0000)" font-size="18"  stroke="#000" stroke-width="0.15">контур пенобетона</text><text transform="translate(70.32 91.80) scale(0.9846 1.1000)" font-size="26" >L</text><text transform="translate(367.41 91.80) scale(1.0399 1.1000)" font-size="26" >L2</text><text transform="translate(685.42 91.80) scale(1.0379 1.1000)" font-size="26" >L3</text><text transform="translate(785.96 91.80) scale(1.0034 1.1000)" font-size="26" >L4</text><text transform="translate(1066.85 91.80) scale(1.0597 1.1000)" font-size="26" >L2</text><text transform="translate(1384.38 91.80) scale(1.0577 1.1000)" font-size="26" >L3</text><text transform="translate(1485.45 91.80) scale(1.0191 1.1000)" font-size="26" >L4</text><text transform="translate(45.99 118.80) scale(0.9937 1.0800)" font-size="13.6"  stroke="#000" stroke-width="0.05">(по расчету)</text><text transform="translate(343.49 118.80) scale(1.0133 1.0800)" font-size="13.6"  stroke="#000" stroke-width="0.05">(по расчету)</text><text transform="translate(661.00 118.80) scale(1.0132 1.0800)" font-size="13.6"  stroke="#000" stroke-width="0.05">(по расчету)</text><text transform="translate(1044.50 118.80) scale(1.0001 1.0800)" font-size="13.6"  stroke="#000" stroke-width="0.05">(по расчету)</text><text transform="translate(1360.49 118.80) scale(1.0200 1.0800)" font-size="13.6"  stroke="#000" stroke-width="0.05">(по расчету)</text><text transform="translate(774.52 118.50) scale(0.6672 1.1300)" font-size="13.6" font-weight="bold">(по расчету)</text><text transform="translate(1474.53 118.50) scale(0.6500 1.1300)" font-size="13.6" font-weight="bold">(по расчету)</text><text transform="translate(387.00 241.70) scale(0.9876 1.0000)" font-size="18"  stroke="#000" stroke-width="0.15">низ головки рельса</text><text transform="translate(700.00 238.90) scale(0.9975 1.0000)" font-size="18"  stroke="#000" stroke-width="0.15">верхняя постель шпалы</text><text transform="translate(1066.10 380.80) scale(1.0000 1.0000)" font-size="18"  stroke="#000" stroke-width="0.15">нижняя постель шпалы</text><text transform="translate(26.00 283.50) rotate(-90) scale(0.9908 1.0000)" font-size="18"  stroke="#000" stroke-width="0.15">задний вылет крестовины</text><path d="M93.4 71.9L95.5 71.9L95.5 91.7L93.3 91.7L93.3 75.6L91.6 77.2L87.9 79.4L87.9 77.1L90.8 75.3L92.7 73.2Z" fill="#000"/></svg></body></html>
